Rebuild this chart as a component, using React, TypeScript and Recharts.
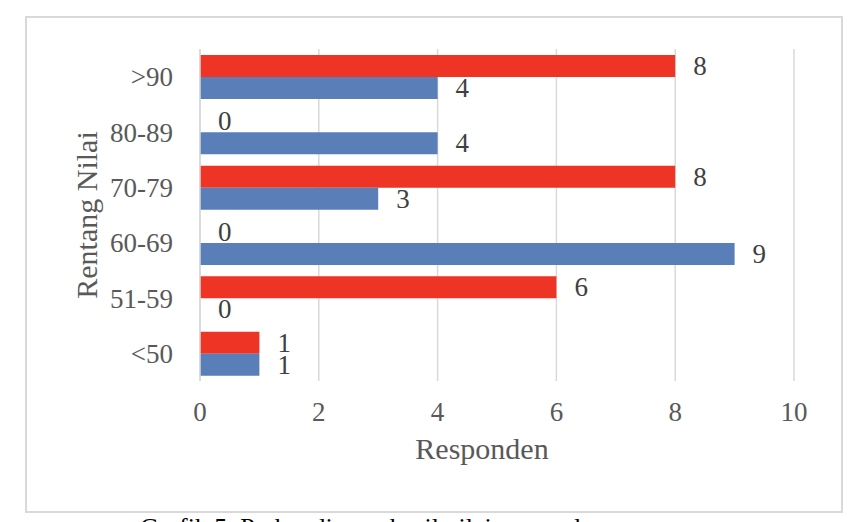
import { BarChart, Bar, XAxis, YAxis, CartesianGrid, LabelList } from "recharts";

// kategori rentang nilai (urutan dari atas ke bawah)
const ranges = [">90", "80-89", "70-79", "60-69", "51-59", "<50"];
const seriesRed = [8, 0, 8, 0, 6, 1];
const seriesBlue = [4, 4, 3, 9, 0, 1];
const xTicks = [0, 2, 4, 6, 8, 10];
const bandTicks = [0, 1, 2, 3, 4, 5, 6];

// ujung tak terlihat di atas tiap batang agar label 0 tetap tampil
const TIP = 1e-6;

const data = ranges.map((range, i) => ({
  range,
  red: seriesRed[i],
  blue: seriesBlue[i],
  tip: TIP,
}));

const FONT = "'Liberation Serif', 'Times New Roman', serif";
const GRID = "#d9d9d9";
const TICK_COLOR = "#595959";

const yTitle = (props: any) => {
  const { x, y, height } = props.viewBox;
  const cx = x + 86;
  const cy = y + height / 2;
  return (
    <text
      x={cx}
      y={cy}
      transform={`rotate(-90 ${cx} ${cy})`}
      textAnchor="middle"
      dominantBaseline="central"
      fontFamily={FONT}
      fontSize={30}
      fill={TICK_COLOR}
    >
      Rentang Nilai
    </text>
  );
};

// label nilai di kanan batang, termasuk nilai 0
const valueLabel = (props: any) => {
  const { x, y, width, height, value } = props;
  return (
    <text
      x={Number(x) + Number(width) + 18}
      y={Number(y) + Number(height) / 2}
      dominantBaseline="central"
      fontFamily={FONT}
      fontSize={27}
      fill="#404040"
    >
      {value}
    </text>
  );
};

const App = () => {
  return (
    <div
      style={{
        position: "absolute",
        left: 0,
        top: 0,
        width: 858,
        height: 522,
        overflow: "hidden",
        background: "#ffffff",
      }}
    >
      <div
        style={{
          position: "absolute",
          left: 25,
          top: 16,
          width: 818,
          height: 497,
          border: `2px solid ${GRID}`,
          boxSizing: "border-box",
        }}
      />
      <div style={{ position: "absolute", left: 0, top: 0 }}>
        <BarChart
          width={858}
          height={522}
          data={data}
          layout="vertical"
          margin={{ top: 49, right: 64, bottom: 51, left: 0 }}
          barGap={0}
          barSize={22}
        >
          <CartesianGrid horizontal={false} stroke={GRID} strokeWidth={1.5} />
          <XAxis
            type="number"
            domain={[0, 10]}
            ticks={xTicks}
            allowDataOverflow
            axisLine={false}
            tickLine={false}
            tickSize={0}
            tickMargin={21}
            height={90}
            tick={{ fill: TICK_COLOR, fontSize: 27, fontFamily: FONT }}
            label={{
              value: "Responden",
              position: "insideBottom",
              offset: 12,
              dx: -15,
              fill: TICK_COLOR,
              fontSize: 30,
              fontFamily: FONT,
            }}
          />
          <YAxis
            type="category"
            dataKey="range"
            width={200}
            axisLine={{ stroke: GRID, strokeWidth: 1.5 }}
            tickLine={false}
            tickSize={0}
            tickMargin={27}
            tick={{ fill: TICK_COLOR, fontSize: 27, fontFamily: FONT }}
            label={{ content: yTitle }}
          />
          {/* sumbu bantu untuk garis tick di batas kategori */}
          <YAxis
            yAxisId="band"
            type="number"
            domain={[0, 6]}
            ticks={bandTicks}
            width={0}
            axisLine={false}
            tick={false}
            tickSize={5}
            tickLine={{ stroke: "#cfcfcf", strokeWidth: 2 }}
          />
          <Bar dataKey="red" stackId="r" fill="#ee3424" isAnimationActive={false} />
          <Bar dataKey="tip" stackId="r" fill="transparent" isAnimationActive={false}>
            <LabelList dataKey="red" content={valueLabel} />
          </Bar>
          <Bar dataKey="blue" stackId="b" fill="#5a7eb8" isAnimationActive={false} />
          <Bar dataKey="tip" stackId="b" fill="transparent" isAnimationActive={false}>
            <LabelList dataKey="blue" content={valueLabel} />
          </Bar>
        </BarChart>
      </div>
      <div
        style={{
          position: "absolute",
          left: 140,
          top: 515,
          fontFamily: FONT,
          fontSize: 26,
          lineHeight: "26px",
          whiteSpace: "nowrap",
          color: "#000000",
        }}
      >
        Grafik 5. Perbandingan hasil nilai responden
      </div>
    </div>
  );
};

export default App;
